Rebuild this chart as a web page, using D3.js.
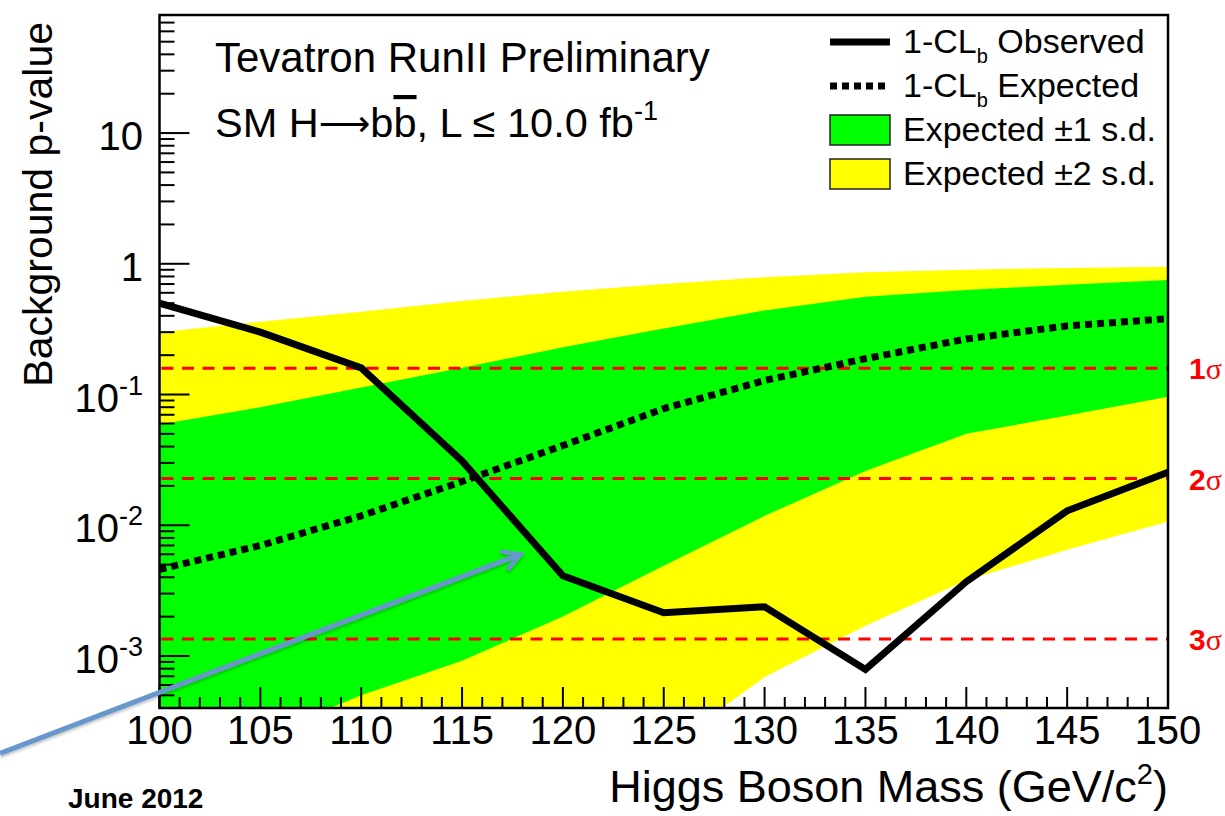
<!DOCTYPE html>
<html>
<head>
<meta charset="utf-8">
<script src="https://cdn.jsdelivr.net/npm/d3@7"></script>
<style>
  body { margin: 0; background: #fff; }
  text { font-family: "Liberation Sans", Arial, Helvetica, sans-serif; fill: #000; }
</style>
</head>
<body>
<div id="chart"></div>
<script>
// ---- data ----
const masses   = [100, 105, 110, 115, 120, 125, 130, 135, 140, 145, 150];
const observed = [0.50, 0.30, 0.16, 0.031, 0.0041, 0.00214, 0.00238, 0.00079, 0.0037, 0.0129, 0.0254];
const expected = [0.0046, 0.0070, 0.0118, 0.0216, 0.0407, 0.078, 0.128, 0.188, 0.266, 0.335, 0.38];
const plus1    = [0.059, 0.080, 0.113, 0.16, 0.23, 0.32, 0.44, 0.56, 0.63, 0.69, 0.75];
const minus1   = [1.1e-4, 2.4e-4, 5.0e-4, 9.2e-4, 0.0020, 0.0049, 0.0118, 0.026, 0.050, 0.069, 0.096];
const plus2    = [0.30, 0.36, 0.43, 0.52, 0.61, 0.70, 0.79, 0.86, 0.90, 0.93, 0.95];
const minus2   = [1e-5, 2e-5, 3e-5, 5e-5, 8e-5, 1.9e-4, 6.9e-4, 0.0017, 0.0038, 0.0065, 0.0107];

const sigmaLabels = ["1", "2", "3"];
const sigmaPvals  = [0.1587, 0.02275, 0.00135];

const xTicks = [100, 105, 110, 115, 120, 125, 130, 135, 140, 145, 150];
const yTicks = [1e-3, 1e-2, 1e-1, 1, 10];

// annotation arrow (mass, p-value)
const arrowStart = [92.1, 1.8e-4];
const arrowEnd   = [117.9, 0.0060];

const W = 1225, H = 816;
const frame = {left: 159.5, right: 1168, top: 15, bottom: 708};

const svg = d3.select("#chart").append("svg")
    .attr("width", W).attr("height", H);

const x = d3.scaleLinear().domain([100, 150]).range([frame.left, frame.right]);
const y = d3.scaleLog().domain([4e-4, 80]).range([frame.bottom, frame.top]);

svg.append("defs").append("clipPath").attr("id", "clip")
    .append("rect")
    .attr("x", frame.left).attr("y", frame.top)
    .attr("width", frame.right - frame.left).attr("height", frame.bottom - frame.top);

const plot = svg.append("g").attr("clip-path", "url(#clip)");

const rows = masses.map((m, i) => ({m, obs: observed[i], exp: expected[i],
    p1: plus1[i], m1: minus1[i], p2: plus2[i], m2: minus2[i]}));

// bands
const band = (lo, hi) => d3.area().x(d => x(d.m)).y0(d => y(d[lo])).y1(d => y(d[hi]));
plot.append("path").datum(rows).attr("d", band("m2", "p2")).attr("fill", "#ffff00");
plot.append("path").datum(rows).attr("d", band("m1", "p1")).attr("fill", "#00ff00");

// sigma reference lines
plot.selectAll(".sig").data(sigmaPvals).enter().append("line")
    .attr("class", "sig")
    .attr("x1", frame.left + 2).attr("x2", frame.right)
    .attr("y1", d => y(d)).attr("y2", d => y(d))
    .attr("stroke", "#ff0000").attr("stroke-width", 3)
    .attr("stroke-dasharray", "12,8.5");

// expected (dotted) and observed lines
plot.append("path").datum(rows)
    .attr("d", d3.line().x(d => x(d.m)).y(d => y(d.exp)))
    .attr("fill", "none").attr("stroke", "#000").attr("stroke-width", 7)
    .attr("stroke-dasharray", "7,5");

plot.append("path").datum(rows)
    .attr("d", d3.line().x(d => x(d.m)).y(d => y(d.obs)))
    .attr("fill", "none").attr("stroke", "#000").attr("stroke-width", 7)
    .attr("stroke-linejoin", "miter");

// frame
svg.append("rect")
    .attr("x", frame.left).attr("y", frame.top)
    .attr("width", frame.right - frame.left).attr("height", frame.bottom - frame.top)
    .attr("fill", "none").attr("stroke", "#000").attr("stroke-width", 2.5);

// x ticks (inside)
const xMinor = d3.range(100, 151, 1);
svg.selectAll(".xt").data(xMinor).enter().append("line")
    .attr("x1", d => x(d)).attr("x2", d => x(d))
    .attr("y1", frame.bottom)
    .attr("y2", d => frame.bottom - (d % 5 === 0 ? 21 : 11))
    .attr("stroke", "#000").attr("stroke-width", 2);

svg.selectAll(".xl").data(xTicks).enter().append("text")
    .attr("x", d => x(d)).attr("y", 744)
    .attr("text-anchor", "middle")
    .style("font-size", "40px")
    .text(d => d);

// y ticks (inside)
let yMinor = [];
[1e-4, 1e-3, 1e-2, 1e-1, 1, 10].forEach(dec => {
    for (let k = 2; k <= 9; k++) {
        const v = k * dec;
        if (v > 4e-4 && v < 80) yMinor.push(v);
    }
});
svg.selectAll(".ym").data(yMinor).enter().append("line")
    .attr("x1", frame.left).attr("x2", frame.left + 15)
    .attr("y1", d => y(d)).attr("y2", d => y(d))
    .attr("stroke", "#000").attr("stroke-width", 2);
svg.selectAll(".yM").data(yTicks).enter().append("line")
    .attr("x1", frame.left).attr("x2", frame.left + 30)
    .attr("y1", d => y(d)).attr("y2", d => y(d))
    .attr("stroke", "#000").attr("stroke-width", 2);

const yl = svg.selectAll(".yl").data(yTicks).enter().append("text")
    .attr("x", 143).attr("y", d => y(d) + 17)
    .attr("text-anchor", "end")
    .style("font-size", "40px");
yl.each(function(d) {
    const e = Math.round(Math.log10(d));
    const t = d3.select(this);
    if (e >= 0) { t.text(d3.format("d")(d)); return; }
    t.append("tspan").text("10");
    t.append("tspan").attr("dy", -17).style("font-size", "27px").text(e);
});

// axis titles
svg.append("text")
    .attr("transform", "translate(52,22) rotate(-90)")
    .attr("text-anchor", "end")
    .style("font-size", "41px")
    .text("Background p-value");

const xt = svg.append("text")
    .attr("x", 1168).attr("y", 802)
    .attr("text-anchor", "end")
    .style("font-size", "45px");
xt.append("tspan").text("Higgs Boson Mass (GeV/c");
xt.append("tspan").attr("dy", -18).style("font-size", "29px").text("2");
xt.append("tspan").attr("dy", 18).text(")");

svg.append("text")
    .attr("x", 68).attr("y", 808)
    .style("font-size", "28px").style("font-weight", "bold")
    .text("June 2012");

// plot labels
svg.append("text").attr("x", 215).attr("y", 72)
    .style("font-size", "42px")
    .text("Tevatron RunII Preliminary");

const t2 = svg.append("text").attr("x", 215).attr("y", 137)
    .style("font-size", "41.5px");
t2.append("tspan").text("SM H");
t2.append("tspan").style("font-family", "'DejaVu Sans', sans-serif").style("font-size", "36px")
    .attr("dy", -1).text("\u27f6");
t2.append("tspan").attr("dy", 1).text("b");
t2.append("tspan").style("text-decoration", "overline").text("b");
t2.append("tspan").text(", L \u2264 10.0 fb");
t2.append("tspan").attr("dy", -17).style("font-size", "27px").text("-1");

// sigma labels
svg.selectAll(".sl").data(sigmaPvals).enter().append("text")
    .attr("x", 1189).attr("y", d => y(d) + 11)
    .style("font-size", "30px").style("font-weight", "bold")
    .each(function(d, i) {
        const t = d3.select(this);
        t.append("tspan").style("fill", "#ff0000").text(sigmaLabels[i]);
        t.append("tspan").style("fill", "#ff0000")
            .style("font-family", "'Liberation Serif', 'Times New Roman', serif")
            .style("font-weight", "normal")
            .text("\u03c3");
    });

// legend
const legendLabels = [["1-CL", "b", " Observed"], ["1-CL", "b", " Expected"],
                      ["Expected \u00b11 s.d."], ["Expected \u00b12 s.d."]];
const legendKinds = ["solid", "dotted", "green", "yellow"];
const leg = svg.append("g");
legendKinds.forEach((k, i) => {
    const cy = 42 + i * 44;
    if (k === "solid" || k === "dotted") {
        leg.append("line").attr("x1", 830).attr("x2", 890).attr("y1", cy).attr("y2", cy)
            .attr("stroke", "#000").attr("stroke-width", 7)
            .attr("stroke-dasharray", k === "dotted" ? "7,5" : null);
    } else {
        leg.append("rect").attr("x", 830).attr("y", cy - 15).attr("width", 60).attr("height", 30)
            .attr("fill", k === "green" ? "#00ff00" : "#ffff00")
            .attr("stroke", "#222").attr("stroke-width", 1.5);
    }
    const t = leg.append("text").attr("x", 903).attr("y", cy + 11).style("font-size", "34px");
    const parts = legendLabels[i];
    t.append("tspan").text(parts[0]);
    if (parts.length > 1) {
        t.append("tspan").attr("dy", 10).style("font-size", "20px").text(parts[1]);
        t.append("tspan").attr("dy", -10).text(parts[2]);
    }
});

// annotation arrow
const defs = svg.select("defs");
defs.append("marker").attr("id", "arrowhead")
    .attr("viewBox", "0 0 12 12").attr("refX", 10).attr("refY", 6)
    .attr("markerWidth", 24).attr("markerHeight", 24)
    .attr("markerUnits", "userSpaceOnUse").attr("orient", "auto")
    .append("path").attr("d", "M1,1 L10,6 L1,11")
    .attr("fill", "none").attr("stroke", "#6897cb").attr("stroke-width", 2.2);
defs.append("filter").attr("id", "shadow")
    .append("feDropShadow").attr("dx", 0).attr("dy", 2).attr("stdDeviation", 1.5)
    .attr("flood-color", "#000").attr("flood-opacity", 0.25);

svg.append("line")
    .attr("x1", x(arrowStart[0])).attr("y1", y(arrowStart[1]))
    .attr("x2", x(arrowEnd[0])).attr("y2", y(arrowEnd[1]))
    .attr("stroke", "#6897cb").attr("stroke-width", 5)
    .attr("marker-end", "url(#arrowhead)")
    .attr("filter", "url(#shadow)");
</script>
</body>
</html>
